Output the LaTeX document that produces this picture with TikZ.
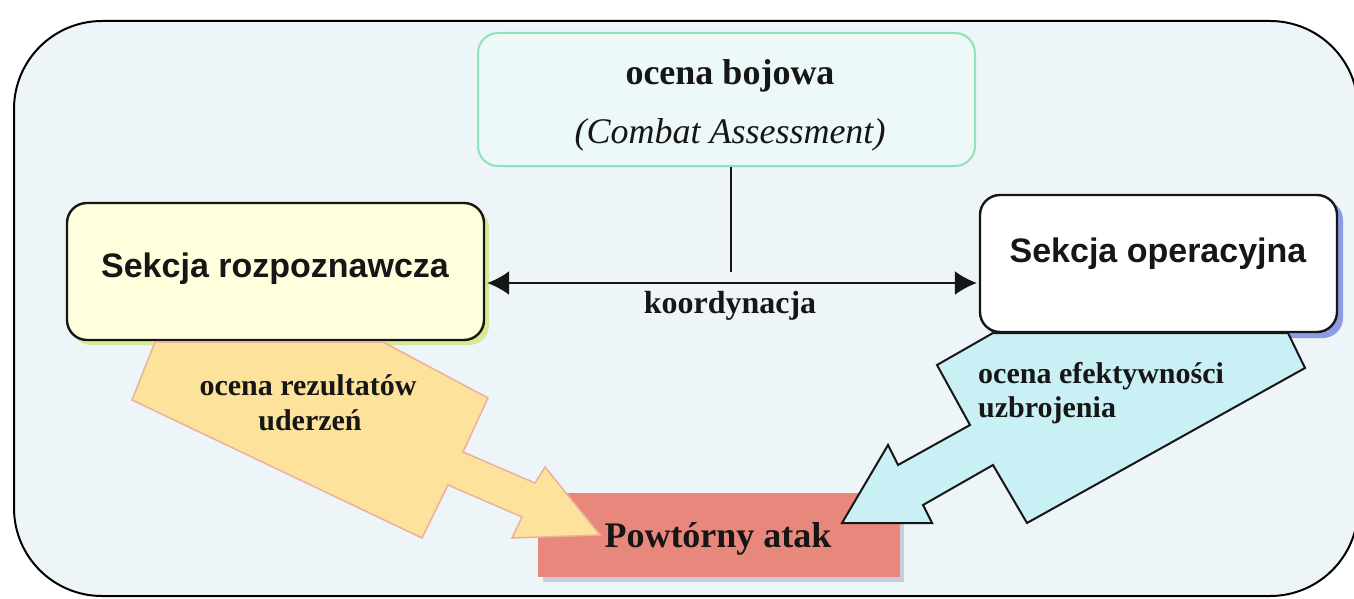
\documentclass[tikz,border=0pt]{standalone}
\usepackage{fontspec}
\setmainfont{Liberation Serif}
\newfontfamily\arialf{Liberation Sans}
\usetikzlibrary{arrows.meta}
\definecolor{framefill}{RGB}{238,245,248}
\definecolor{topfill}{RGB}{237,248,248}
\definecolor{topline}{RGB}{142,228,184}
\definecolor{leftfill}{RGB}{255,255,222}
\definecolor{leftshadow}{RGB}{214,234,150}
\definecolor{rightshadow}{RGB}{140,156,228}
\definecolor{redfill}{RGB}{232,135,123}
\definecolor{redshadow}{RGB}{198,205,221}
\definecolor{yelfill}{RGB}{252,226,155}
\definecolor{yelline}{RGB}{237,176,158}
\definecolor{bluefill}{RGB}{201,240,244}
\definecolor{inkc}{RGB}{22,22,22}
\tikzset{
  secbox/.style={draw=inkc, line width=2.4pt, rounded corners=20pt, inner sep=0pt},
  sectext/.style={font=\arialf\bfseries\fontsize{34}{38}\selectfont, text=inkc, anchor=base, inner sep=0pt},
  boldtext/.style={font=\bfseries\fontsize{36}{40}\selectfont, text=inkc, anchor=base, inner sep=0pt},
  smalltext/.style={font=\bfseries\fontsize{30}{34}\selectfont, text=inkc, anchor=base, inner sep=0pt},
  bighead/.style={Latex[length=22pt,width=24pt]},
}
\begin{document}
\begin{tikzpicture}[x=1pt, y=-1pt]
\useasboundingbox (0,0) rectangle (1354,599);
\fill[white] (0,0) rectangle (1354,599);
% outer frame
\draw[fill=framefill, line width=2pt, rounded corners=88pt] (14,21) rectangle (1358,596);
% top box
\node[draw=topline, fill=topfill, line width=2pt, rounded corners=20pt, minimum width=497pt, minimum height=133pt, inner sep=0pt] (topbox) at (726.5,99.5) {};
% left box with shadow
\fill[leftshadow, rounded corners=20pt] (71,208) rectangle (489,345);
\node[secbox, fill=leftfill, minimum width=417pt, minimum height=137pt] (leftbox) at (275.5,271.5) {};
% right box with shadow
\fill[rightshadow, rounded corners=20pt] (985,200) rectangle (1343,338);
\node[secbox, fill=white, minimum width=357pt, minimum height=137pt] (rightbox) at (1158.5,263.5) {};
% red box with shadow
\fill[redshadow] (543,498) rectangle (904,582);
\node[fill=redfill, minimum width=362pt, minimum height=84pt, inner sep=0pt] (redbox) at (719,535) {};
% coordination
\coordinate (k) at (731,283);
\coordinate (vend) at (731,272);
\draw[line width=1.6pt, inkc] (topbox.south -| vend) -- (vend);
\draw[line width=1.8pt, inkc, {Latex[length=22pt,width=24pt]}-{Latex[length=22pt,width=24pt]}] ([xshift=2pt]leftbox.east |- k) -- ([xshift=-2pt]rightbox.west |- k);
% yellow block arrow
\filldraw[fill=yelfill, draw=yelline, line width=1.5pt, line join=miter]
  (155,342) -- (132,400) -- (422,538) -- (448,485) -- (522,517) -- (512,538) -- (600,535)
  -- (545,467) -- (535,483) -- (463,452) -- (488,398) -- (383,342) -- cycle;
% blue block arrow
\filldraw[fill=bluefill, draw=inkc, line width=2pt, line join=miter]
  (993,333) -- (937,365) -- (970,425) -- (898,465) -- (888,445) -- (842,523) -- (932,523)
  -- (923,505) -- (993,465) -- (1027,523) -- (1305,368) -- (1288,333) -- cycle;
% texts
\node[boldtext] (t1) at (730,85) {ocena bojowa};
\node[boldtext, font=\itshape\fontsize{36}{40}\selectfont] (t2) at (730,143) {(Combat Assessment)};
\node[boldtext, font=\bfseries\fontsize{32}{36}\selectfont] (tk) at (730,313) {koordynacja};
\node[sectext] (tl) at (275,277) {Sekcja rozpoznawcza};
\node[sectext] (tr) at (1158,262) {Sekcja operacyjna};
\node[smalltext] (ya) at (308,395) {ocena rezultatów};
\node[smalltext] (yb) at (310,430) {uderzeń};
\node[smalltext, anchor=base west] (ba) at (978,383) {ocena efektywności};
\node[smalltext, anchor=base west] (bb) at (978,417) {uzbrojenia};
\node[boldtext] (tp) at (718,547) {Powtórny atak};
\end{tikzpicture}
\end{document}
